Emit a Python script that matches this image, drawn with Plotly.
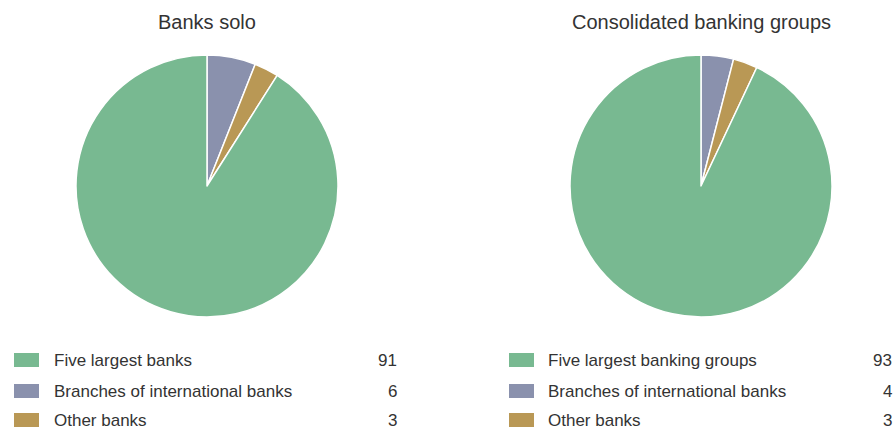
import plotly.graph_objects as go

titles = ["Banks solo", "Consolidated banking groups"]
labels_solo = ["Five largest banks", "Branches of international banks", "Other banks"]
labels_groups = ["Five largest banking groups", "Branches of international banks", "Other banks"]
values_solo = [91, 6, 3]
values_groups = [93, 4, 3]
colors = ["#78B991", "#8A91AD", "#B99855"]

W, H = 896, 430
FONT = "Liberation Sans, Arial, sans-serif"
TXT = "#333333"

fig = go.Figure()

# pie geometry (pixels)
centers = [207, 701]
cy, r = 186, 131

def px_x(x):
    return x / W

def px_y(y):
    return 1 - y / H

all_labels = [labels_solo, labels_groups]
all_values = [values_solo, values_groups]
# slices drawn clockwise from 12 o'clock: Branches, Other, Five largest
order = [1, 2, 0]
for i in range(2):
    cx = centers[i]
    fig.add_trace(go.Pie(
        labels=[all_labels[i][k] for k in order],
        values=[all_values[i][k] for k in order],
        marker=dict(colors=[colors[k] for k in order], line=dict(color="white", width=1.5)),
        sort=False, direction="clockwise", rotation=0,
        textinfo="none", hoverinfo="label+value",
        domain=dict(x=[px_x(cx - r), px_x(cx + r)], y=[px_y(cy + r), px_y(cy - r)]),
        showlegend=False,
    ))
    fig.add_annotation(text=titles[i], x=px_x(cx), y=px_y(22), xref="paper", yref="paper",
                       showarrow=False, xanchor="center", yanchor="middle",
                       font=dict(family=FONT, size=20, color=TXT))

# custom legends
legend_x = [14, 509]
text_x = [52, 546]
val_right = [399, 894]
rows_y = [360, 391, 420]
for i in range(2):
    for j in range(3):
        y = rows_y[j]
        fig.add_shape(type="rect", xref="paper", yref="paper",
                      x0=px_x(legend_x[i]), x1=px_x(legend_x[i] + 25),
                      y0=px_y(y + 7), y1=px_y(y - 7),
                      fillcolor=colors[j], line=dict(width=0))
        fig.add_annotation(text=all_labels[i][j], x=px_x(text_x[i]), y=px_y(y),
                           xref="paper", yref="paper", showarrow=False,
                           xanchor="left", yanchor="middle",
                           font=dict(family=FONT, size=17, color=TXT))
        fig.add_annotation(text=str(all_values[i][j]), x=px_x(val_right[i]), y=px_y(y),
                           xref="paper", yref="paper", showarrow=False,
                           xanchor="right", yanchor="middle",
                           font=dict(family=FONT, size=17, color=TXT))

fig.update_layout(width=W, height=H, margin=dict(l=0, r=0, t=0, b=0),
                  paper_bgcolor="white", plot_bgcolor="white")
fig.write_html("out.html")
